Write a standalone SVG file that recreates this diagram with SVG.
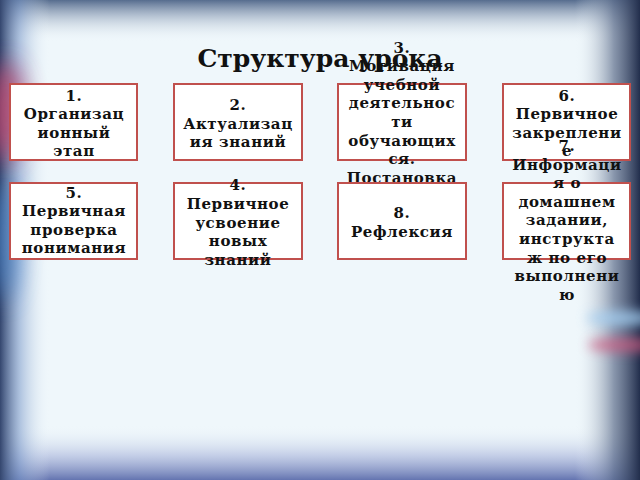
<svg xmlns="http://www.w3.org/2000/svg" width="640" height="480" viewBox="0 0 640 480">
<defs>
<style>
.box{fill:#ffffff;stroke:#c0504d;stroke-width:2}
.t{font-family:"DejaVu Serif","Liberation Serif",serif;font-weight:bold;font-size:15px;letter-spacing:0.6px;fill:#111;text-anchor:middle}
.title{font-family:"DejaVu Serif","Liberation Serif",serif;font-weight:bold;font-size:25px;fill:#111;text-anchor:middle}
</style>
<filter id="blur" filterUnits="userSpaceOnUse" x="-100" y="-100" width="840" height="680"><feGaussianBlur stdDeviation="12"/></filter>
<filter id="blur2" filterUnits="userSpaceOnUse" x="-100" y="-100" width="840" height="680"><feGaussianBlur stdDeviation="6"/></filter>
<linearGradient id="gTop" x1="0" y1="0" x2="0" y2="1">
<stop offset="0" stop-color="#566c8e"/>
<stop offset="0.45" stop-color="#a3b2c6" stop-opacity="0.6"/>
<stop offset="1" stop-color="#eff7fb" stop-opacity="0"/>
</linearGradient>
<linearGradient id="gBot" x1="0" y1="0" x2="0" y2="1">
<stop offset="0" stop-color="#eff7fb" stop-opacity="0"/>
<stop offset="0.55" stop-color="#a8b4da" stop-opacity="0.6"/>
<stop offset="1" stop-color="#6474b0"/>
</linearGradient>
<linearGradient id="gLeft" x1="0" y1="0" x2="1" y2="0">
<stop offset="0" stop-color="#34466e"/>
<stop offset="0.4" stop-color="#7a98c8" stop-opacity="0.55"/>
<stop offset="1" stop-color="#eff7fb" stop-opacity="0"/>
</linearGradient>
<linearGradient id="gRight" x1="1" y1="0" x2="0" y2="0">
<stop offset="0" stop-color="#222e4c"/>
<stop offset="0.4" stop-color="#5c6c8a" stop-opacity="0.7"/>
<stop offset="1" stop-color="#eff7fb" stop-opacity="0"/>
</linearGradient>
</defs>

<g id="background">
<rect x="0" y="0" width="640" height="480" fill="#eff7fb"/>
<rect x="0" y="0" width="640" height="42" fill="url(#gTop)"/>
<rect x="0" y="425" width="640" height="55" fill="url(#gBot)"/>
<rect x="0" y="0" width="50" height="480" fill="url(#gLeft)"/>
<rect x="575" y="0" width="65" height="480" fill="url(#gRight)"/>
<ellipse cx="6" cy="112" rx="18" ry="50" fill="#c8456c" opacity="0.8" filter="url(#blur)"/>
<ellipse cx="4" cy="240" rx="14" ry="60" fill="#4a86cc" opacity="0.7" filter="url(#blur)"/>
<ellipse cx="622" cy="318" rx="36" ry="7" fill="#a4d0f4" opacity="0.8" filter="url(#blur2)"/>
<ellipse cx="624" cy="345" rx="36" ry="7" fill="#d4587e" opacity="0.7" filter="url(#blur2)"/>
</g>

<g id="title">
<text class="title" x="320" y="67">Структура урока</text>
</g>

<g id="connectors"></g>

<g id="node1">
<rect class="box" x="10" y="84" width="127" height="76"/>
<text class="t" x="74" y="100.6">1.</text>
<text class="t" x="74" y="119.2">Организац</text>
<text class="t" x="74" y="137.8">ионный</text>
<text class="t" x="74" y="156.4">этап</text>
</g>

<g id="node2">
<rect class="box" x="174" y="84" width="128" height="76"/>
<text class="t" x="238" y="110">2.</text>
<text class="t" x="238" y="128.6">Актуализац</text>
<text class="t" x="238" y="147.2">ия знаний</text>
</g>

<g id="node3">
<rect class="box" x="338" y="84" width="128" height="76"/>
<text class="t" x="402" y="52.5">3.</text>
<text class="t" x="402" y="71.1">Мотивация</text>
<text class="t" x="402" y="89.7">учебной</text>
<text class="t" x="402" y="108.3">деятельнос</text>
<text class="t" x="402" y="126.9">ти</text>
<text class="t" x="402" y="145.5">обучающих</text>
<text class="t" x="402" y="164.1">ся.</text>
<text class="t" x="402" y="182.7">Постановка</text>
</g>

<g id="node4">
<rect class="box" x="174" y="183" width="128" height="76"/>
<text class="t" x="238" y="190.3">4.</text>
<text class="t" x="238" y="208.9">Первичное</text>
<text class="t" x="238" y="227.5">усвоение</text>
<text class="t" x="238" y="246.1">новых</text>
<text class="t" x="238" y="264.7">знаний</text>
</g>

<g id="node5">
<rect class="box" x="10" y="183" width="127" height="76"/>
<text class="t" x="74" y="197.5">5.</text>
<text class="t" x="74" y="216.1">Первичная</text>
<text class="t" x="74" y="234.7">проверка</text>
<text class="t" x="74" y="253.3">понимания</text>
</g>

<g id="node6">
<rect class="box" x="503" y="84" width="127" height="76"/>
<text class="t" x="567" y="100.6">6.</text>
<text class="t" x="567" y="119.2">Первичное</text>
<text class="t" x="567" y="137.8">закреплени</text>
<text class="t" x="567" y="156.4">е</text>
</g>

<g id="node7">
<rect class="box" x="503" y="183" width="127" height="76"/>
<text class="t" x="567" y="151">7.</text>
<text class="t" x="567" y="169.6">Информаци</text>
<text class="t" x="567" y="188.2">я о</text>
<text class="t" x="567" y="206.8">домашнем</text>
<text class="t" x="567" y="225.4">задании,</text>
<text class="t" x="567" y="244">инструкта</text>
<text class="t" x="567" y="262.6">ж по его</text>
<text class="t" x="567" y="281.2">выполнени</text>
<text class="t" x="567" y="299.8">ю</text>
</g>

<g id="node8">
<rect class="box" x="338" y="183" width="128" height="76"/>
<text class="t" x="402" y="218.2">8.</text>
<text class="t" x="402" y="236.8">Рефлексия</text>
</g>
</svg>
